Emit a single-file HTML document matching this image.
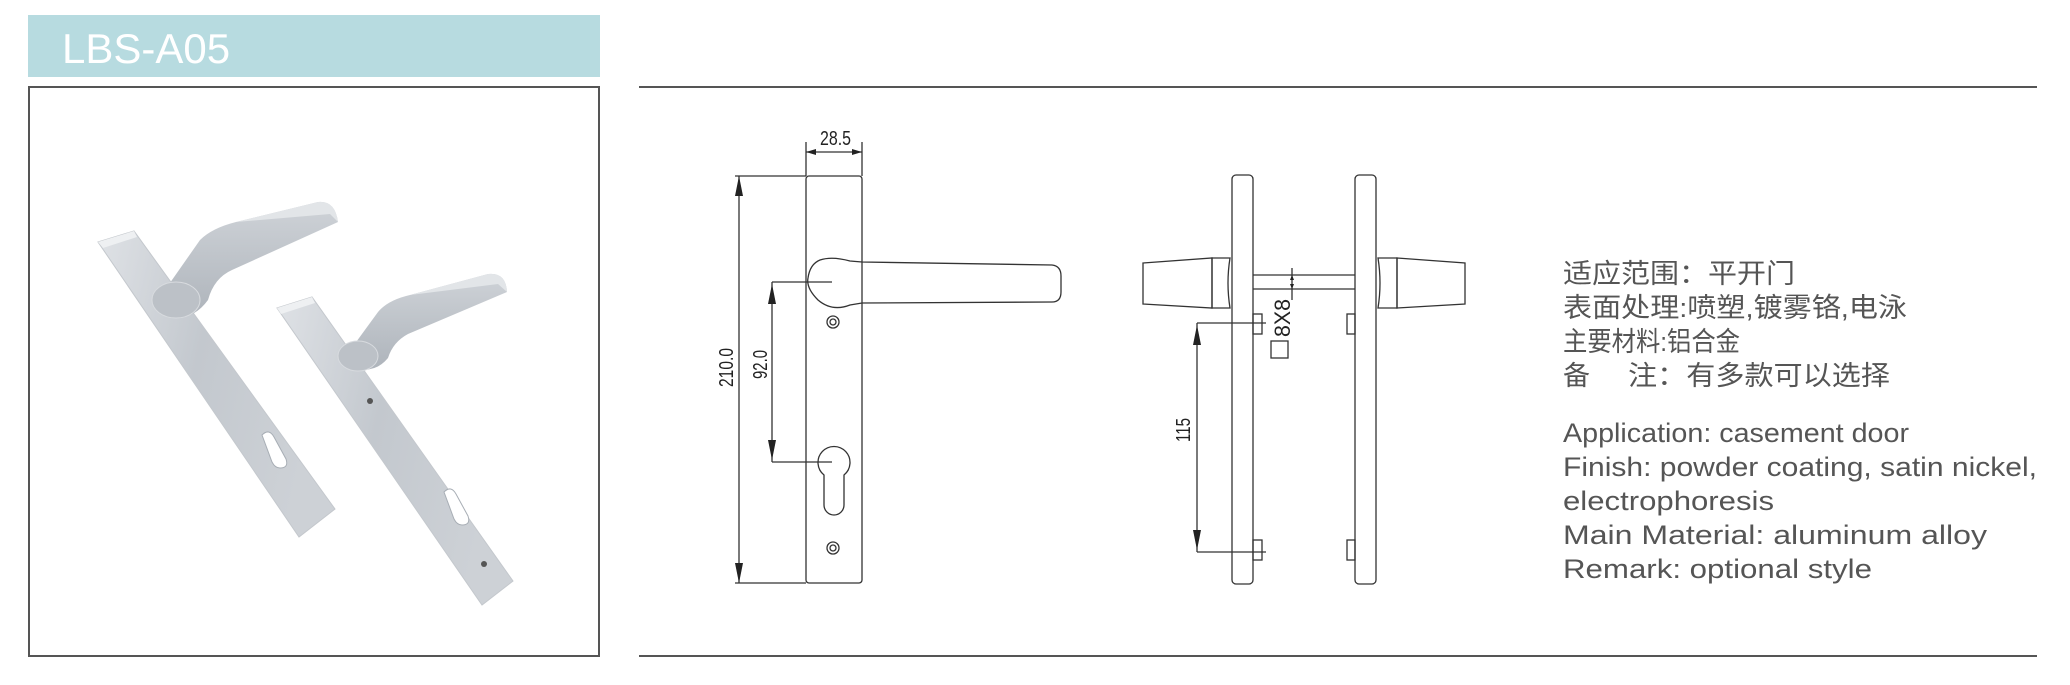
<!DOCTYPE html>
<html><head><meta charset="utf-8"><style>
html,body{margin:0;padding:0;background:#fff;}
svg{display:block;}
</style></head><body>
<svg width="2070" height="685" viewBox="0 0 2070 685" xmlns="http://www.w3.org/2000/svg">
<defs>
<linearGradient id="pl" x1="0" y1="0" x2="1" y2="0.3">
<stop offset="0" stop-color="#dfe2e6"/><stop offset="0.5" stop-color="#c3c8ce"/><stop offset="1" stop-color="#cdd1d6"/></linearGradient>
<linearGradient id="lv" x1="0" y1="0" x2="0" y2="1">
<stop offset="0" stop-color="#cfd3d8"/><stop offset="1" stop-color="#aeb4bb"/></linearGradient>
</defs>
<rect x="28" y="15" width="572" height="62" fill="#b7dbe0"/>
<text x="62" y="63" font-family="Liberation Sans, sans-serif" font-size="42" fill="#fff">LBS-A05</text>
<rect x="29" y="87" width="570" height="569" fill="none" stroke="#555" stroke-width="2"/>
<!-- handle 1 -->
<polygon points="98,242 134,231 335,509 299,537" fill="url(#pl)" stroke="#c4c8cd" stroke-width="1"/>
<polygon points="98,242 134,231 137,237 103,248" fill="#eef0f2"/>
<path d="M262,435 q7,-7 12,2 l12,22 q3,9 -6,9 q-5,0 -8,-6 z" fill="#fff" stroke="#a8aeb5"/>
<path d="M158,300 L200,240 Q212,228 236,222 L318,202 Q335,200 338,222 L232,270 Q214,278 208,300 Q192,322 168,316 Z" fill="url(#lv)"/>
<path d="M236,222 L318,202 Q335,200 338,222 L330,214 Z" fill="#e2e5e8"/>
<ellipse cx="176" cy="300" rx="24" ry="18" fill="#bcc1c7" stroke="#d8dbdf"/>
<!-- handle 2 -->
<polygon points="277,308 312,297 513,581 482,605" fill="url(#pl)" stroke="#c4c8cd" stroke-width="1"/>
<polygon points="277,308 312,297 315,303 281,314" fill="#eef0f2"/>
<path d="M444,492 q7,-7 12,2 l12,22 q3,9 -6,9 q-5,0 -8,-6 z" fill="#fff" stroke="#a8aeb5"/>
<circle cx="370" cy="401" r="3" fill="#555"/>
<circle cx="484" cy="564" r="3" fill="#555"/>
<path d="M343,360 L378,312 Q388,300 410,295 L488,274 Q506,272 507,292 L408,334 Q393,342 388,358 Q375,374 353,368 Z" fill="url(#lv)"/>
<path d="M410,295 L488,274 Q506,272 507,292 L498,284 Z" fill="#e2e5e8"/>
<ellipse cx="358" cy="356" rx="20" ry="15" fill="#bcc1c7" stroke="#d8dbdf"/>
<line x1="639" y1="87" x2="2037" y2="87" stroke="#555" stroke-width="2"/>
<line x1="639" y1="656" x2="2037" y2="656" stroke="#555" stroke-width="2"/>
<g fill="none" stroke="#333" stroke-width="1.3">
<rect x="806" y="176" width="56" height="407" rx="3"/>
<line x1="806" y1="142" x2="806" y2="176"/><line x1="862" y1="142" x2="862" y2="176"/>
<line x1="806" y1="152" x2="862" y2="152"/>
<line x1="735" y1="176" x2="806" y2="176"/><line x1="735" y1="583" x2="806" y2="583"/>
<line x1="739" y1="176" x2="739" y2="583"/>
<line x1="772" y1="282" x2="772" y2="462"/>
<line x1="772" y1="282" x2="832" y2="282"/><line x1="772" y1="462" x2="832" y2="462"/>
<path d="M820,260 Q832,256 850,261 L862,262 L1052,265 Q1061,266 1061,276 L1061,292 Q1061,302 1052,302 L862,303 L850,305 Q832,312 818,300 Q806,288 808,278 Q810,264 820,260 Z"/>
<circle cx="833" cy="322" r="6"/><circle cx="833" cy="322" r="3"/>
<circle cx="833" cy="548" r="6"/><circle cx="833" cy="548" r="3"/>
<path d="M824,475 A16,16 0 1 1 844,475 L844,505 A10,10 0 0 1 824,505 Z"/>
<rect x="1232" y="175" width="21" height="409" rx="4"/>
<rect x="1355" y="175" width="21" height="409" rx="4"/>
<path d="M1143,263 L1212,258 L1212,308 L1143,304 Z"/>
<path d="M1212,258 L1230,258 Q1226,283 1230,308 L1212,308 Z"/>
<path d="M1397,258 L1465,263 L1465,304 L1397,308 Z"/>
<path d="M1378,258 L1397,258 L1397,308 L1378,308 Q1382,283 1378,258 Z"/>
<line x1="1253" y1="275" x2="1355" y2="275"/><line x1="1253" y1="289" x2="1355" y2="289"/>
<line x1="1292" y1="268" x2="1292" y2="300"/>
<rect x="1253" y="314" width="9" height="20"/><rect x="1347" y="314" width="8" height="20"/>
<rect x="1253" y="540" width="9" height="20"/><rect x="1347" y="540" width="8" height="20"/>
<line x1="1197" y1="323" x2="1266" y2="323"/><line x1="1197" y1="552" x2="1266" y2="552"/>
<line x1="1197" y1="323" x2="1197" y2="552"/>
<rect x="1271" y="341" width="17" height="17"/>
</g>
<g fill="#222">
<polygon points="806,152 816,149 816,155"/><polygon points="862,152 852,149 852,155"/>
<polygon points="739,176 735,196 743,196"/><polygon points="739,583 735,563 743,563"/>
<polygon points="772,284 768,304 776,304"/><polygon points="772,460 768,440 776,440"/>
<polygon points="1197,325 1193,345 1201,345"/><polygon points="1197,550 1193,530 1201,530"/>
<polygon points="1292,275 1290,280 1294,280"/><polygon points="1292,289 1290,284 1294,284"/>
</g>
<g font-family="Liberation Sans, sans-serif" fill="#222" font-size="20">
<text x="820" y="145" textLength="31" lengthAdjust="spacingAndGlyphs">28.5</text>
<text transform="translate(733,387) rotate(-90)" textLength="39" lengthAdjust="spacingAndGlyphs">210.0</text>
<text transform="translate(767,379) rotate(-90)" textLength="29" lengthAdjust="spacingAndGlyphs">92.0</text>
<text transform="translate(1190,442) rotate(-90)" textLength="24" lengthAdjust="spacingAndGlyphs">115</text>
<text transform="translate(1290,337) rotate(-90)" font-size="22" textLength="38" lengthAdjust="spacingAndGlyphs">8X8</text>
</g>
<g font-family="Liberation Sans, 'Noto Sans CJK SC', sans-serif" fill="#555" font-size="27">
<text x="1563" y="283" textLength="232" lengthAdjust="spacingAndGlyphs">适应范围：平开门</text>
<text x="1563" y="317" textLength="344" lengthAdjust="spacingAndGlyphs">表面处理:喷塑,镀雾铬,电泳</text>
<text x="1563" y="351" textLength="177" lengthAdjust="spacingAndGlyphs">主要材料:铝合金</text>
<text x="1563" y="385">备</text>
<text x="1628" y="385" textLength="262" lengthAdjust="spacingAndGlyphs">注：有多款可以选择</text>
<text x="1563" y="442" textLength="346" lengthAdjust="spacingAndGlyphs">Application: casement door</text>
<text x="1563" y="476" textLength="474" lengthAdjust="spacingAndGlyphs">Finish: powder coating, satin nickel,</text>
<text x="1563" y="510" textLength="211" lengthAdjust="spacingAndGlyphs">electrophoresis</text>
<text x="1563" y="544" textLength="424" lengthAdjust="spacingAndGlyphs">Main Material: aluminum alloy</text>
<text x="1563" y="578" textLength="309" lengthAdjust="spacingAndGlyphs">Remark: optional style</text>
</g>
</svg>
</body></html>
